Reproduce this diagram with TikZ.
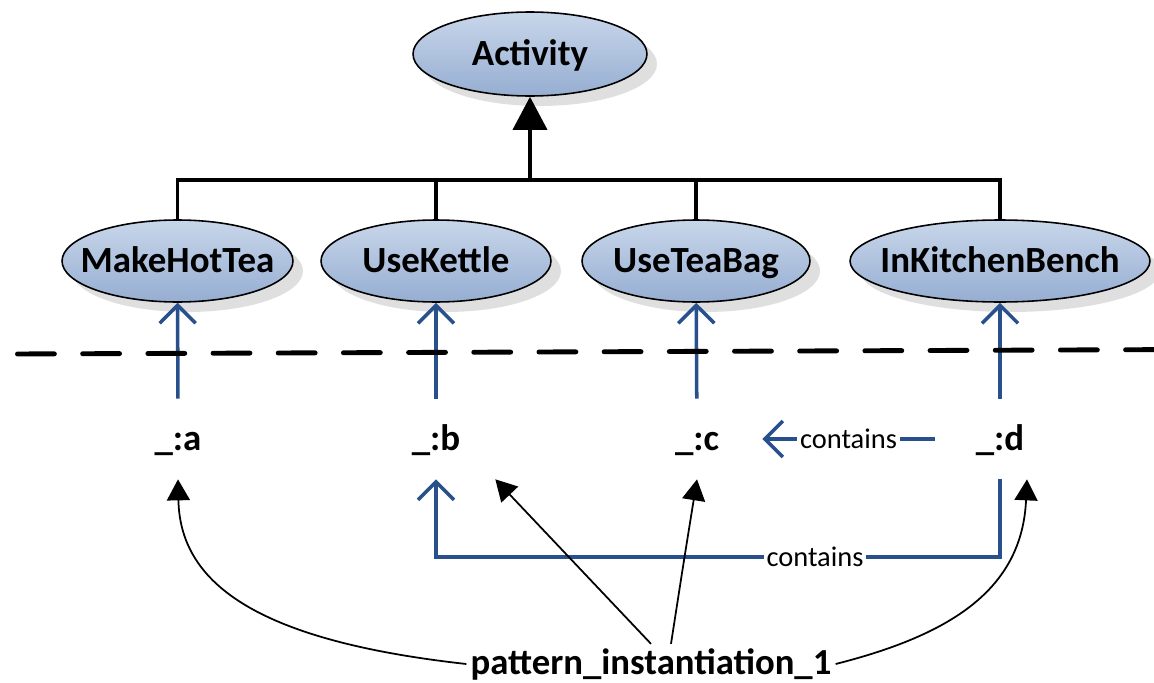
\documentclass[tikz,border=0pt]{standalone}
\usepackage{fontspec}
\setmainfont{Carlito}
\usetikzlibrary{shapes.geometric,arrows.meta,shadows,calc}

\definecolor{linkblue}{RGB}{40,80,140}
\definecolor{ovtop}{RGB}{200,214,234}
\definecolor{ovbot}{RGB}{150,174,210}

% zero-width box so the ellipse size is set only by its minimum size
\newcommand{\zw}[1]{\makebox[0pt]{#1}}

\begin{document}
\begin{tikzpicture}[x=0.02cm,y=-0.02cm,
  concept/.style={ellipse, draw=black, line width=0.9pt,
    top color=ovtop, bottom color=ovbot,
    drop shadow={shadow xshift=0.2cm, shadow yshift=-0.2cm, fill=black!25},
    inner sep=0pt, minimum height=1.64cm,
    font=\bfseries\fontsize{21}{25}\selectfont,
    text height=14.7pt, text depth=2pt},
  varnode/.style={font=\bfseries\fontsize{21}{25}\selectfont,
    minimum width=2.6cm, minimum height=1.6cm, inner sep=0pt,
    text height=14.7pt, text depth=2pt},
  patnode/.style={font=\bfseries\fontsize{20.9}{25}\selectfont, inner sep=0.08cm},
  lbl/.style={font=\fontsize{16.2}{19}\selectfont, fill=white, inner sep=1.5pt, text=black},
  tree/.style={line width=2pt, draw=black},
  link/.style={draw=linkblue, line width=2pt, -{Straight Barb[length=0.36cm,width=0.72cm]}},
  ptr/.style={draw=black, line width=1pt, -{Triangle[length=0.42cm,width=0.46cm]}}
]
\useasboundingbox (0,0) rectangle (1154,683);

% class hierarchy
\node[concept, minimum width=4.68cm, minimum height=1.68cm] (act) at (530,54) {\zw{Activity}};
\node[concept, minimum width=4.62cm] (mht) at (177.5,261) {\zw{MakeHotTea}};
\node[concept, minimum width=4.6cm]  (uk)  at (436,261) {\zw{UseKettle}};
\node[concept, minimum width=4.56cm] (utb) at (696,261) {\zw{UseTeaBag}};
\node[concept, minimum width=6cm]    (ikb) at (1000,261) {\zw{InKitchenBench}};

\coordinate (hub) at (530,180);
\draw[tree] (mht.north) |- (ikb.north |- hub) -- (ikb.north);
\draw[tree] (uk.north) -- (uk.north |- hub);
\draw[tree] (utb.north) -- (utb.north |- hub);
\draw[tree, -{Triangle[length=0.66cm,width=0.68cm]}] (hub) -- (act);

% instance variables
\node[varnode] (a) at (178,439) {\_:a};
\node[varnode] (b) at (436,439) {\_:b};
\node[varnode] (c) at (697,439) {\_:c};
\node[varnode] (d) at (1000,439) {\_:d};

\draw[link] (a) -- (mht);
\draw[link] (b) -- (uk);
\draw[link] (c) -- (utb);
\draw[link] (d) -- (ikb);

\draw[link] (d) -- node[lbl]{contains} (c);
\coordinate (bc) at (436,557);
\draw[link] (d.south) |- node[lbl, pos=0.664]{contains} (bc) -- (b.south);

% separator between schema and instance level
\draw[line width=2.8pt, dash pattern=on 21pt off 16.1pt, line cap=round]
  (17.5,354) -- (1170,349.6);

% pattern instance
\node[patnode] (P) at (651,664) {pattern\_instantiation\_1};
\draw[ptr] (P.west) .. controls (250,640) and (180,580) .. (a.south);
\draw[ptr] (P.north) -- ([xshift=-0.12cm]b.south east);
\draw[ptr] ([xshift=0.4cm]P.north) .. controls (684,560) .. (c.south);
\draw[ptr] (P.east) .. controls (950,635) and (1022,590) .. ([xshift=0.54cm]d.south);
\end{tikzpicture}
\end{document}
